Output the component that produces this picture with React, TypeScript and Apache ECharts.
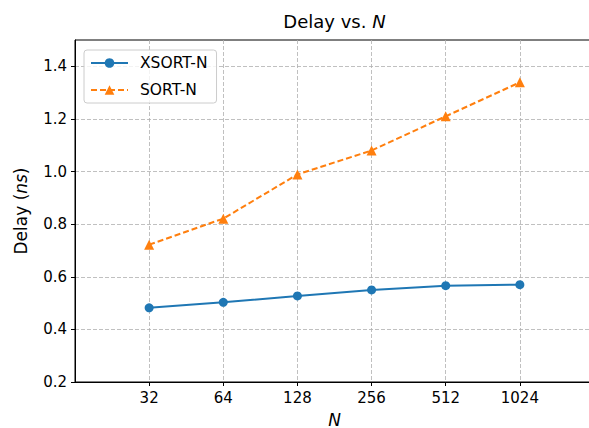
import React, { useEffect, useRef } from "react";
import * as echarts from "echarts";

const categories = [32, 64, 128, 256, 512, 1024];
const xsortN = [0.482, 0.503, 0.527, 0.55, 0.566, 0.57];
const sortN = [0.722, 0.821, 0.989, 1.08, 1.21, 1.339];
const yTicks = [0.2, 0.4, 0.6, 0.8, 1.0, 1.2, 1.4];

const FONT = "DejaVu Sans";

export default function App() {
  const ref = useRef<HTMLDivElement>(null);
  useEffect(() => {
    if (!ref.current) return;
    const chart = echarts.init(ref.current, undefined, { renderer: "svg" });
    const xPos = categories.map((c) => Math.log2(c));
    const gridLeft = 75;
    const gridTop = 40;
    const gridWidth = 519;
    const gridHeight = 342;
    chart.setOption({
      animation: false,
      backgroundColor: "#fff",
      textStyle: { fontFamily: FONT, color: "#000" },
      graphic: [
        {
          type: "text",
          x: gridLeft + gridWidth / 2,
          y: 21,
          style: {
            text: "{a|Delay vs. }{b|N}",
            align: "center",
            verticalAlign: "middle",
            rich: {
              a: { fontFamily: FONT, fontSize: 18, fill: "#000" },
              b: { fontFamily: FONT, fontSize: 18, fontStyle: "italic", fill: "#000" },
            },
          },
        },
      ],
      grid: {
        left: gridLeft,
        top: gridTop,
        width: gridWidth,
        height: gridHeight,
        outerBoundsMode: "none",
        containLabel: false,
        show: true,
        borderColor: "#000",
        borderWidth: 1,
        backgroundColor: "transparent",
      },
      legend: {
        orient: "vertical",
        left: 84,
        top: 50,
        padding: [5, 9, 5, 6],
        itemWidth: 37,
        itemHeight: 12,
        itemGap: 11,
        backgroundColor: "rgba(255,255,255,0.8)",
        borderColor: "#cccccc",
        borderWidth: 1,
        borderRadius: 3,
        textStyle: { fontFamily: FONT, fontSize: 15.5, color: "#000", padding: [0, 0, 0, 7] },
        data: ["XSORT-N", "SORT-N"],
      },
      xAxis: {
        type: "value",
        min: 4,
        max: 11,
        interval: 1,
        name: "N",
        nameLocation: "middle",
        nameGap: 30,
        nameTextStyle: {
          fontFamily: FONT,
          fontSize: 17,
          lineHeight: 15,
          fontStyle: "italic",
          color: "#000",
        },
        axisLine: { show: true, lineStyle: { color: "#000", width: 1 } },
        axisTick: {
          show: true,
          length: 4,
          lineStyle: { color: "#000" },
          customValues: xPos,
        },
        axisLabel: {
          margin: 8,
          fontFamily: FONT,
          fontSize: 15,
          color: "#000",
          customValues: xPos,
          formatter: (v: number) => {
            const i = xPos.indexOf(Math.round(v));
            return i >= 0 && Math.abs(v - Math.round(v)) < 1e-6 ? String(categories[i]) : "";
          },
        },
        splitLine: {
          show: true,
          lineStyle: { color: "#b0b0b0", width: 0.8, type: [4, 2] },
        },
      },
      yAxis: {
        type: "value",
        min: 0.2,
        max: 1.5,
        interval: 0.2,
        name: "{a|Delay (}{b|ns}{a|)}",
        nameLocation: "middle",
        nameGap: 46,
        nameTextStyle: {
          rich: {
            a: { fontFamily: FONT, fontSize: 17, color: "#000" },
            b: { fontFamily: FONT, fontSize: 17, fontStyle: "italic", color: "#000" },
          },
        },
        axisLine: { show: true, lineStyle: { color: "#000", width: 1 } },
        axisTick: { show: true, length: 4, lineStyle: { color: "#000" }, customValues: yTicks },
        axisLabel: {
          margin: 8,
          fontFamily: FONT,
          fontSize: 15,
          color: "#000",
          customValues: yTicks,
          formatter: (v: number) => v.toFixed(1),
        },
        splitLine: {
          show: true,
          lineStyle: { color: "#b0b0b0", width: 0.8, type: [4, 2] },
        },
      },
      series: [
        {
          name: "XSORT-N",
          type: "line",
          data: xPos.map((x, i) => [x, xsortN[i]]),
          symbol: "circle",
          symbolSize: 9,
          lineStyle: { color: "#1f77b4", width: 2 },
          itemStyle: { color: "#1f77b4" },
        },
        {
          name: "SORT-N",
          type: "line",
          data: xPos.map((x, i) => [x, sortN[i]]),
          symbol: "triangle",
          symbolSize: 10,
          lineStyle: { color: "#ff7f0e", width: 2, type: [6, 3] },
          itemStyle: { color: "#ff7f0e" },
        },
      ],
    });
    return () => chart.dispose();
  }, []);
  return <div ref={ref} style={{ width: 589, height: 428, position: "absolute", left: 0, top: 0 }} />;
}
